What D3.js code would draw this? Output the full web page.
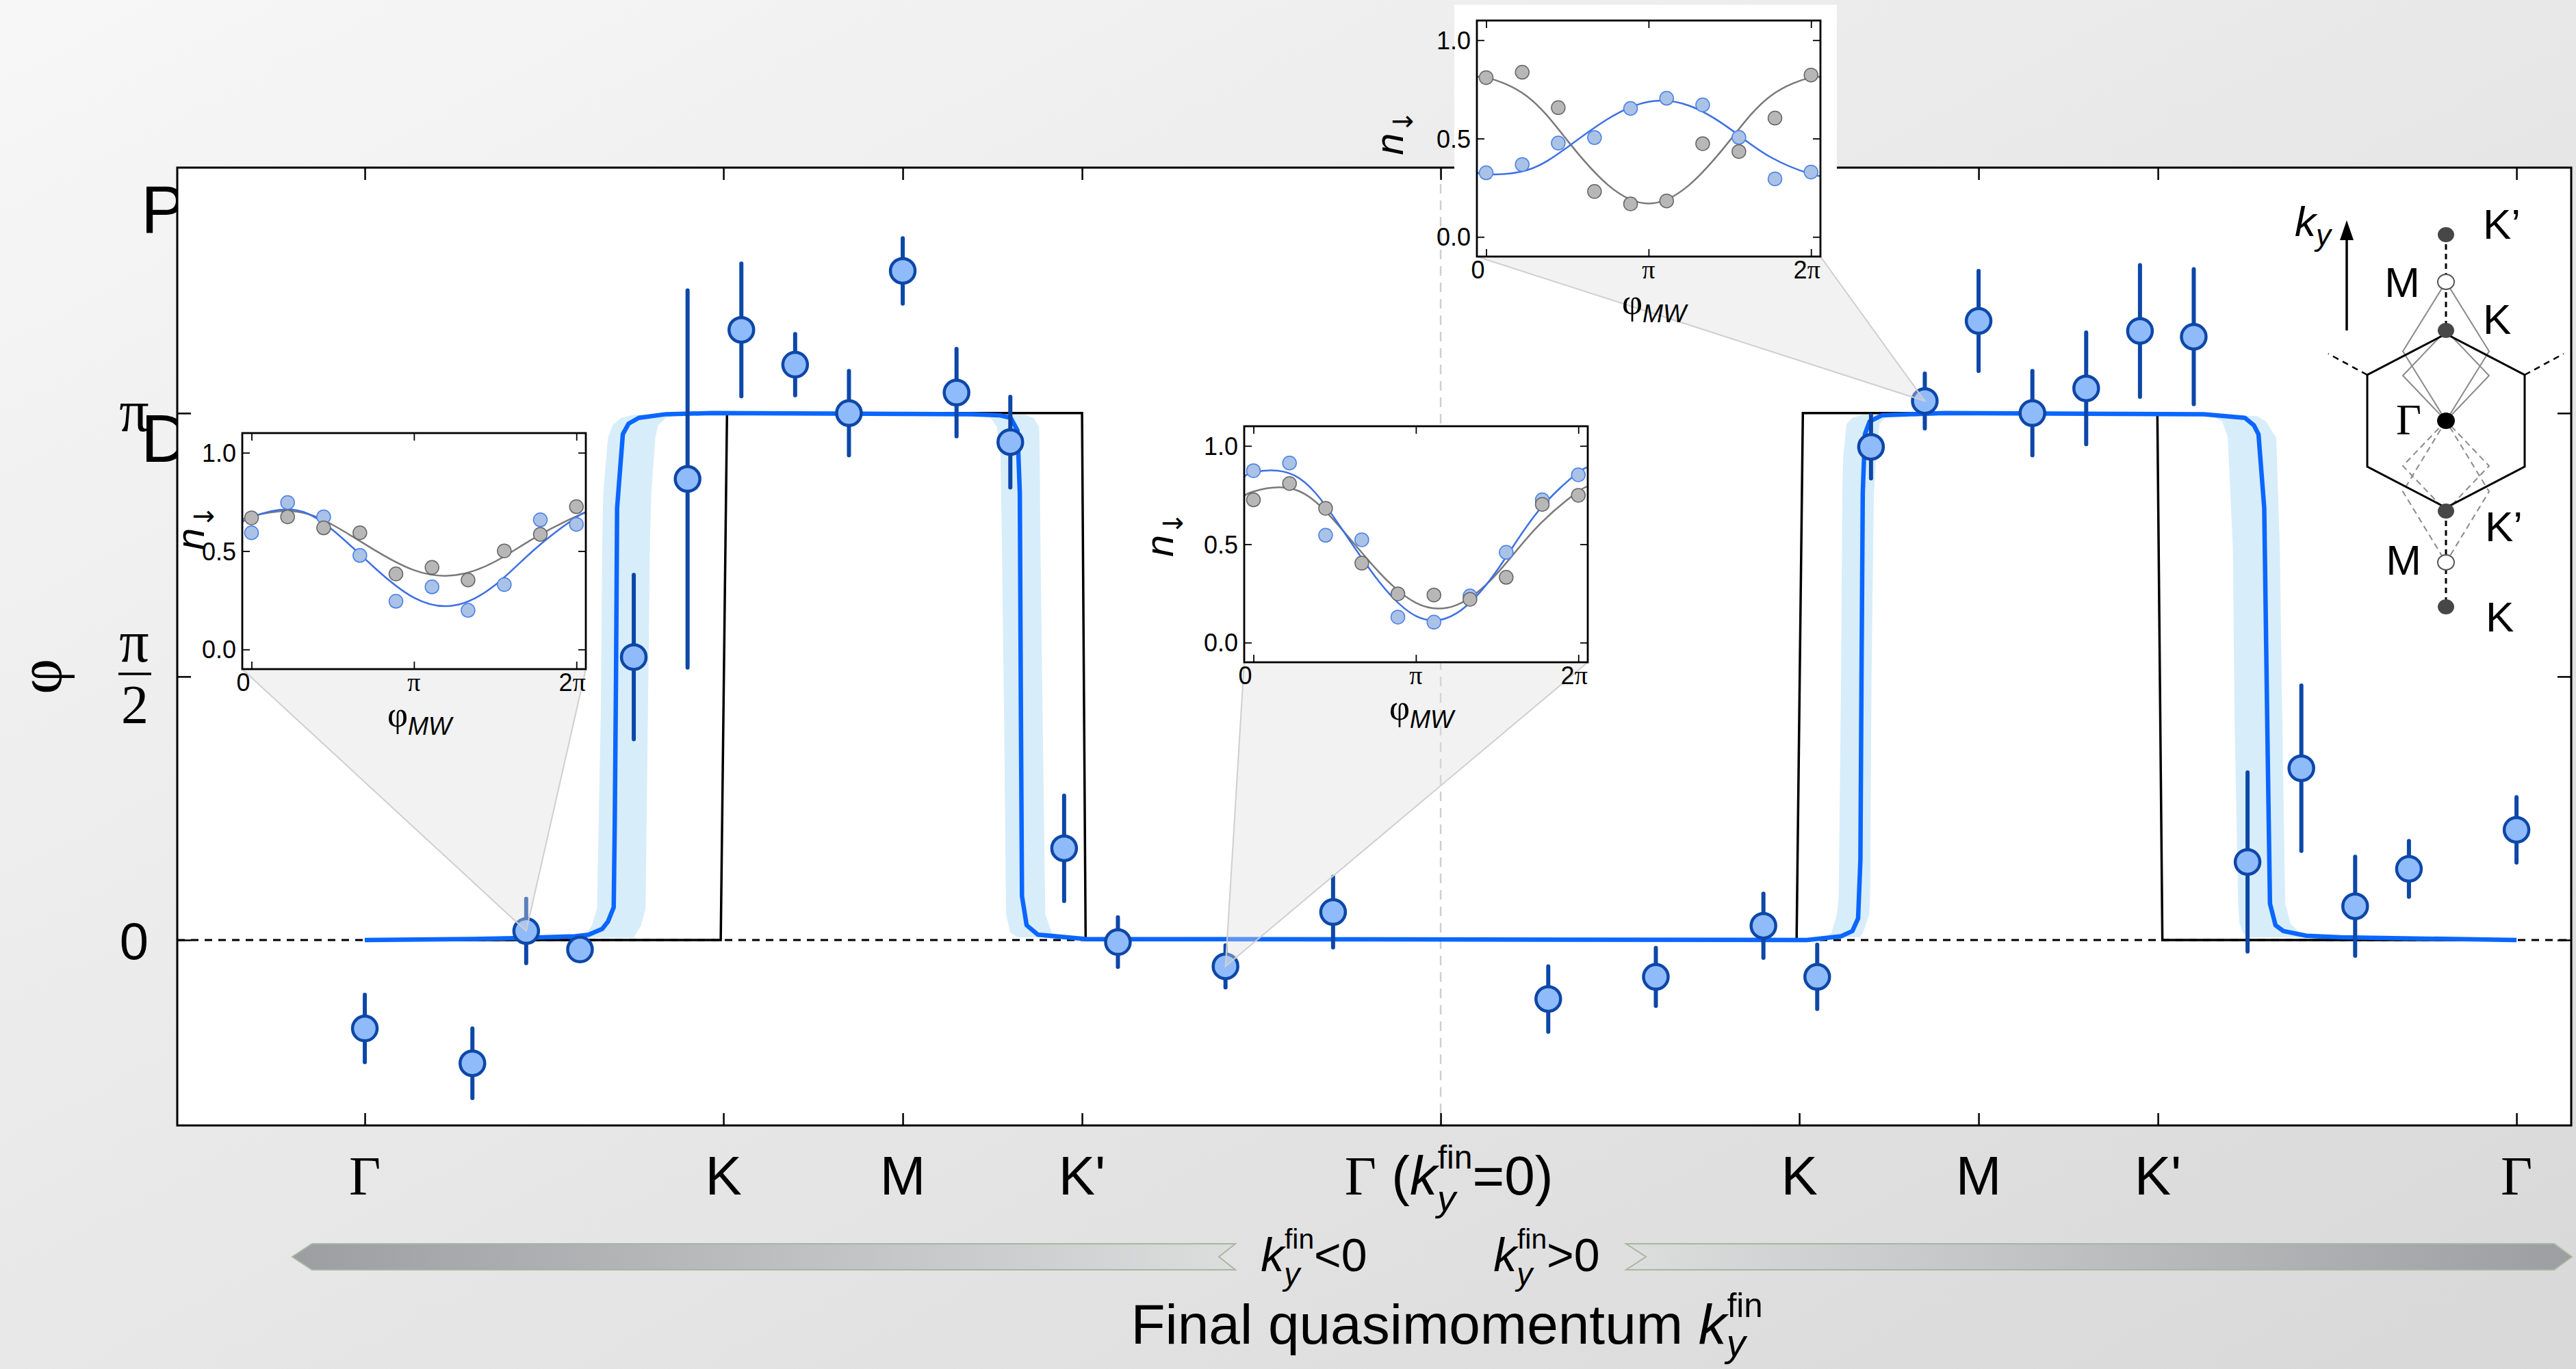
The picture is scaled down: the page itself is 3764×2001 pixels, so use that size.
<!DOCTYPE html>
<html>
<head>
<meta charset="utf-8">
<script src="https://cdn.jsdelivr.net/npm/d3@7/dist/d3.min.js"></script>
<style>
  html, body { margin: 0; padding: 0; overflow: hidden; }
  svg { display: block; }
  text { font-family: "Liberation Sans", Arial, sans-serif; fill: #000; }
  .serif { font-family: "Liberation Serif", "DejaVu Serif", serif; }
</style>
</head>
<body>
<svg id="fig"></svg>
<script>
// k positions in units of the Gamma-M distance: Gamma=0, K=2, M=3, K'=4, Gamma(k=0)=6 ...
let tickPos = [0, 2, 3, 4, 6, 8, 9, 10, 12];
let tickNames = ['Γ', 'K', 'M', "K'", 'Γ0', 'K', 'M', "K'", 'Γ'];

// measured phase (in units of pi) and error bars
let kMeas = [0, 0.6, 0.9, 1.2, 1.5, 1.8, 2.1, 2.4, 2.7, 3.0, 3.3, 3.6, 3.9, 4.2, 4.8, 5.4,
             6.6, 7.2, 7.8, 8.1, 8.4, 8.7, 9.0, 9.3, 9.6, 9.9, 10.2, 10.5, 10.8, 11.1, 11.4, 12.0];
let phiMeas = [-0.168, -0.234, 0.017, -0.018, 0.537, 0.875, 1.158, 1.092, 1.0, 1.270, 1.039, 0.945, 0.174, -0.004, -0.05, 0.053,
               -0.112, -0.07, 0.027, -0.07, 0.936, 1.023, 1.175, 1.0, 1.047, 1.156, 1.145, 0.148, 0.326, 0.064, 0.135, 0.209];
let phiErr = [0.064, 0.066, 0.061, 0.015, 0.156, 0.358, 0.126, 0.058, 0.08, 0.062, 0.083, 0.086, 0.10, 0.047, 0.04, 0.067,
              0.062, 0.055, 0.061, 0.061, 0.06, 0.052, 0.095, 0.08, 0.106, 0.125, 0.128, 0.17, 0.157, 0.094, 0.053, 0.062];

// ideal step (black)
let stepK = [0, 1.985, 2.02, 4.0, 4.02, 7.985, 8.02, 9.997, 10.025, 12];
let stepPhi = [0, 0, 1, 1, 0, 0, 1, 1, 0, 0];

// finite-ramp theory (blue line)
let theoryK = [0, 0.6, 0.9, 1.172, 1.248, 1.324, 1.356, 1.388, 1.394, 1.401, 1.407, 1.439, 1.471, 1.528, 1.68, 1.935,
               3.385, 3.538, 3.602, 3.64, 3.653, 3.659, 3.665, 3.691, 3.754, 4.02,
               8.042, 8.233, 8.296, 8.328, 8.341, 8.347, 8.354, 8.366, 8.392, 8.462, 8.805,
               10.256, 10.485, 10.535, 10.561, 10.593, 10.612, 10.625, 10.656, 10.70, 10.828, 11.02, 12];
let theoryPhi = [0, 0.002, 0.004, 0.007, 0.01, 0.021, 0.035, 0.062, 0.222, 0.5, 0.82, 0.96, 0.98, 0.991, 0.998, 1.0,
                 0.998, 0.996, 0.991, 0.967, 0.848, 0.431, 0.083, 0.028, 0.01, 0.002,
                 0.0, 0.007, 0.017, 0.041, 0.153, 0.5, 0.848, 0.96, 0.984, 0.996, 1.0,
                 0.998, 0.991, 0.977, 0.96, 0.82, 0.362, 0.069, 0.028, 0.017, 0.008, 0.005, 0];

// shaded range of the theory: [phi, k left edge, k right edge]
let bandRiseL = [[0.004, 1.22, 1.50], [0.028, 1.267, 1.541], [0.06, 1.295, 1.566], [0.43, 1.316, 1.579], [0.75, 1.324, 1.59],
                 [0.85, 1.33, 1.598], [0.953, 1.356, 1.62], [0.977, 1.382, 1.635], [0.991, 1.43, 1.68], [0.997, 1.5, 1.75]];
let bandDropL = [[0.005, 3.64, 3.89], [0.014, 3.60, 3.831], [0.049, 3.576, 3.795], [0.431, 3.565, 3.78], [0.779, 3.552, 3.767],
                 [0.918, 3.545, 3.764], [0.974, 3.525, 3.761], [0.991, 3.49, 3.729], [0.997, 3.44, 3.68]];
let bandRiseR = [[0.005, 8.14, 8.34], [0.014, 8.18, 8.355], [0.049, 8.21, 8.39], [0.083, 8.22, 8.395], [0.5, 8.233, 8.403],
                 [0.848, 8.24, 8.416], [0.918, 8.245, 8.43], [0.98, 8.264, 8.448], [0.991, 8.296, 8.48], [0.997, 8.35, 8.53]];
let bandDropR = [[0.005, 10.50, 10.85], [0.014, 10.475, 10.79], [0.031, 10.455, 10.74], [0.069, 10.447, 10.71], [0.431, 10.427, 10.693],
                 [0.744, 10.418, 10.68], [0.953, 10.39, 10.66], [0.984, 10.36, 10.603], [0.995, 10.30, 10.55]];

// insets: spin-down population vs microwave phase (units of pi)
let mwPhase = [0, 0.222, 0.444, 0.667, 0.889, 1.111, 1.333, 1.556, 1.778, 2.0];
let in1Gray = [0.669, 0.674, 0.618, 0.593, 0.384, 0.417, 0.353, 0.501, 0.585, 0.726];
let in1Blue = [0.593, 0.747, 0.674, 0.478, 0.245, 0.318, 0.199, 0.330, 0.659, 0.636];
let in2Gray = [0.726, 0.809, 0.683, 0.404, 0.248, 0.242, 0.220, 0.332, 0.703, 0.749];
let in2Blue = [0.874, 0.913, 0.546, 0.523, 0.130, 0.104, 0.237, 0.459, 0.726, 0.853];
let in3Gray = [0.810, 0.837, 0.657, 0.231, 0.168, 0.183, 0.474, 0.434, 0.604, 0.823];
let in3Blue = [0.326, 0.368, 0.477, 0.505, 0.653, 0.705, 0.671, 0.506, 0.295, 0.330];

// fitted curves of the insets, sampled
let fitPhase = [-0.06, 0, 0.25, 0.5, 0.75, 1, 1.25, 1.5, 1.75, 2, 2.06];
let fit1Gray = [0.657, 0.677, 0.703, 0.633, 0.509, 0.403, 0.377, 0.447, 0.571, 0.677, 0.692];
let fit1Blue = [0.642, 0.672, 0.711, 0.607, 0.421, 0.263, 0.224, 0.328, 0.514, 0.672, 0.695];
let fit2Gray = [0.738, 0.768, 0.779, 0.618, 0.379, 0.202, 0.191, 0.352, 0.591, 0.768, 0.788];
let fit2Blue = [0.834, 0.865, 0.851, 0.631, 0.335, 0.135, 0.149, 0.368, 0.665, 0.865, 0.883];
let fit3Gray = [0.804, 0.810, 0.716, 0.490, 0.264, 0.170, 0.264, 0.490, 0.716, 0.810, 0.804];
let fit3Blue = [0.331, 0.319, 0.339, 0.456, 0.600, 0.687, 0.667, 0.550, 0.406, 0.319, 0.313];

// ---------------- drawing ----------------
const W = 3764, H = 2001;
const box = {l: 259, r: 3757, t: 245, b: 1645};
const blueDark = '#0d47a8', blueLine = '#0a66ff', bandCol = '#d8edfa';

const svg = d3.select('#fig').attr('width', W).attr('height', H);
const defs = svg.append('defs');

let bg = defs.append('linearGradient').attr('id', 'bg').attr('x1', 0).attr('y1', 0).attr('x2', 1).attr('y2', 1);
bg.append('stop').attr('offset', '0%').attr('stop-color', '#f7f7f7');
bg.append('stop').attr('offset', '100%').attr('stop-color', '#d8d8d8');
svg.append('rect').attr('width', W).attr('height', H).attr('fill', 'url(#bg)');

// leftover panel letters, partly hidden by the plot
svg.append('text').attr('x', 206).attr('y', 340).attr('font-size', 98).text('P');
svg.append('text').attr('x', 206).attr('y', 675).attr('font-size', 98).text('D');

const x = d3.scaleLinear().domain([-1.046, 12.305]).range([box.l, box.r]);
const y = d3.scaleLinear().domain([-0.352, 1.466]).range([box.b, box.t]);

svg.append('rect').attr('x', box.l).attr('y', box.t).attr('width', box.r - box.l).attr('height', box.b - box.t).attr('fill', '#fff');
defs.append('clipPath').attr('id', 'plotclip').append('rect')
  .attr('x', box.l).attr('y', box.t).attr('width', box.r - box.l).attr('height', box.b - box.t);
const plot = svg.append('g').attr('clip-path', 'url(#plotclip)');

// k = 0 guide and phi = 0 guide
plot.append('line').attr('x1', x(6)).attr('x2', x(6)).attr('y1', box.t).attr('y2', box.b)
  .attr('stroke', '#cfcfcf').attr('stroke-width', 2.5).attr('stroke-dasharray', '14,10');
plot.append('line').attr('x1', box.l).attr('x2', box.r).attr('y1', y(0)).attr('y2', y(0))
  .attr('stroke', '#000').attr('stroke-width', 3).attr('stroke-dasharray', '11,9');

const band = d3.area().y(d => y(d[0])).x0(d => x(d[1])).x1(d => x(d[2]));
plot.selectAll('path.band').data([bandRiseL, bandDropL, bandRiseR, bandDropR]).join('path')
  .attr('class', 'band').attr('d', band).attr('fill', bandCol);

const line = d3.line().x(d => x(d[0])).y(d => y(d[1]));
plot.append('path').datum(stepK.map((k, i) => [k, stepPhi[i]])).attr('d', line)
  .attr('fill', 'none').attr('stroke', '#000').attr('stroke-width', 3.5);
plot.append('path').datum(theoryK.map((k, i) => [k, theoryPhi[i]])).attr('d', line)
  .attr('fill', 'none').attr('stroke', blueLine).attr('stroke-width', 6.5).attr('stroke-linejoin', 'round');

const pts = kMeas.map((k, i) => ({k: k, v: phiMeas[i], e: phiErr[i]}));
plot.selectAll('line.err').data(pts).join('line').attr('class', 'err')
  .attr('x1', d => x(d.k)).attr('x2', d => x(d.k))
  .attr('y1', d => y(d.v - d.e)).attr('y2', d => y(d.v + d.e))
  .attr('stroke', blueDark).attr('stroke-width', 6).attr('stroke-linecap', 'round');
plot.selectAll('circle.pt').data(pts).join('circle').attr('class', 'pt')
  .attr('cx', d => x(d.k)).attr('cy', d => y(d.v)).attr('r', 18)
  .attr('fill', '#8fbbfb').attr('stroke', blueDark).attr('stroke-width', 4.5);

// frame and ticks
svg.append('rect').attr('x', box.l).attr('y', box.t).attr('width', box.r - box.l).attr('height', box.b - box.t)
  .attr('fill', 'none').attr('stroke', '#000').attr('stroke-width', 3);
function ticks(axis, tx, ty) {
  let g = svg.append('g').attr('transform', `translate(${tx},${ty})`).call(axis);
  g.select('.domain').remove();
  g.selectAll('line').attr('stroke', '#000').attr('stroke-width', 2.5);
  g.selectAll('text').remove();
}
ticks(d3.axisBottom(x).tickValues(tickPos).tickSize(-18), 0, box.b);
ticks(d3.axisTop(x).tickValues(tickPos).tickSize(-18), 0, box.t);
ticks(d3.axisLeft(y).tickValues([0, 0.5, 1]).tickSize(-20), box.l, 0);
ticks(d3.axisRight(y).tickValues([0, 0.5, 1]).tickSize(-20), box.r, 0);

// helper for k_y^fin (y below, fin above, stacked)
function addKy(t, fs, after, drop) {
  drop = drop || 0.3;
  t.append('tspan').attr('font-style', 'italic').text('k');
  t.append('tspan').attr('font-style', 'italic').attr('font-size', fs * 0.68).attr('dy', fs * drop).text('y');
  t.append('tspan').attr('font-size', fs * 0.6).attr('dx', -fs * 0.33).attr('dy', -fs * (drop + 0.48)).text('fin');
  if (after) t.append('tspan').attr('dy', fs * 0.48).text(after);
}

// x tick labels
const xfs = 80, xlBase = 1746;
tickPos.forEach((k, i) => {
  let name = tickNames[i];
  let t = svg.append('text').attr('x', x(k)).attr('y', xlBase).attr('font-size', xfs).attr('text-anchor', 'middle');
  if (name === 'Γ') t.attr('class', 'serif').text('Γ');
  else if (name === 'Γ0') {
    t.attr('x', x(k) + 12);
    t.append('tspan').attr('class', 'serif').text('Γ');
    t.append('tspan').text(' (');
    addKy(t, xfs, '=0)');
  } else t.text(name);
});

// y tick labels
const yl = svg.append('g');
yl.append('text').attr('class', 'serif').attr('x', 196).attr('y', y(1) + 26).attr('font-size', 86).attr('text-anchor', 'middle').text('π');
yl.append('text').attr('class', 'serif').attr('x', 196).attr('y', y(0.5) - 22).attr('font-size', 86).attr('text-anchor', 'middle').text('π');
yl.append('line').attr('x1', 173).attr('x2', 221).attr('y1', y(0.5) - 4).attr('y2', y(0.5) - 4).attr('stroke', '#000').attr('stroke-width', 3.5);
yl.append('text').attr('class', 'serif').attr('x', 197).attr('y', y(0.5) + 68).attr('font-size', 80).attr('text-anchor', 'middle').text('2');
yl.append('text').attr('x', 196).attr('y', y(0) + 28).attr('font-size', 76).attr('text-anchor', 'middle').text('0');
svg.append('text').attr('class', 'serif').attr('font-size', 90).attr('text-anchor', 'middle')
  .attr('transform', `translate(90,${y(0.5)}) rotate(-90)`).text('φ');

// direction arrows under the axis
let gl = defs.append('linearGradient').attr('id', 'arrL');
gl.append('stop').attr('offset', '0%').attr('stop-color', '#9c9ea1');
gl.append('stop').attr('offset', '100%').attr('stop-color', '#dcdddd');
let gr = defs.append('linearGradient').attr('id', 'arrR');
gr.append('stop').attr('offset', '0%').attr('stop-color', '#dcdddd');
gr.append('stop').attr('offset', '100%').attr('stop-color', '#9c9ea1');
const aT = 1818, aM = 1837, aB = 1856;
svg.append('polygon').attr('points', [[427, aM], [456, aT], [1805, aT], [1781, aM], [1805, aB], [456, aB]].join(' '))
  .attr('fill', 'url(#arrL)').attr('stroke', '#a9b6a2').attr('stroke-width', 2);
svg.append('polygon').attr('points', [[2376, aT], [3732, aT], [3758, aM], [3732, aB], [2376, aB], [2405, aM]].join(' '))
  .attr('fill', 'url(#arrR)').attr('stroke', '#a9b6a2').attr('stroke-width', 2);
let tL = svg.append('text').attr('x', 1920).attr('y', 1858).attr('font-size', 68).attr('text-anchor', 'middle');
addKy(tL, 68, '<0');
let tR = svg.append('text').attr('x', 2260).attr('y', 1858).attr('font-size', 68).attr('text-anchor', 'middle');
addKy(tR, 68, '>0');
let title = svg.append('text').attr('x', 2114).attr('y', 1964).attr('font-size', 82).attr('text-anchor', 'middle');
title.append('tspan').text('Final quasimomentum ');
addKy(title, 82, null, 0.22);

// ---------------- insets ----------------
const insetW = 502, insetH = 345;
let insets = [
  {id: 1, x: 354, y: 633, gray: in1Gray, blue: in1Blue, fitG: fit1Gray, fitB: fit1Blue, target: 2, labDx: -56, labV: 0.62},
  {id: 2, x: 1818, y: 623, gray: in2Gray, blue: in2Blue, fitG: fit2Gray, fitB: fit2Blue, target: 14, labDx: -104, labV: 0.55},
  {id: 3, x: 2158, y: 30, gray: in3Gray, blue: in3Blue, fitG: fit3Gray, fitB: fit3Blue, target: 21, labDx: -108, labV: 0.53, panel: true}
];

insets.forEach(cfg => {
  const g = svg.append('g');
  const ix = d3.scaleLinear().domain([-0.057, 2.058]).range([cfg.x, cfg.x + insetW]);
  const iy = d3.scaleLinear().domain([-0.1, 1.1]).range([cfg.y + insetH, cfg.y]);
  if (cfg.panel) {
    g.append('rect').attr('x', cfg.x - 33).attr('y', 7).attr('width', 559).attr('height', 270).attr('fill', '#fff');
  }
  // callout wedge to the data point
  let p = pts[cfg.target];
  g.append('path')
    .attr('d', `M${cfg.x},${cfg.y + insetH}L${x(p.k)},${y(p.v)}L${cfg.x + insetW},${cfg.y + insetH}Z`)
    .attr('fill', '#dcdcdc').attr('fill-opacity', 0.38).attr('stroke', '#cfcfcf').attr('stroke-width', 2);

  g.append('rect').attr('x', cfg.x).attr('y', cfg.y).attr('width', insetW).attr('height', insetH).attr('fill', '#fff');
  const cid = 'ic' + cfg.id;
  defs.append('clipPath').attr('id', cid).append('rect')
    .attr('x', cfg.x).attr('y', cfg.y).attr('width', insetW).attr('height', insetH);
  const inner = g.append('g').attr('clip-path', `url(#${cid})`);
  const fl = d3.line().x(d => ix(d[0])).y(d => iy(d[1])).curve(d3.curveNatural);
  inner.append('path').datum(fitPhase.map((f, i) => [f, cfg.fitG[i]])).attr('d', fl)
    .attr('fill', 'none').attr('stroke', '#7a7a7a').attr('stroke-width', 2.5);
  inner.append('path').datum(fitPhase.map((f, i) => [f, cfg.fitB[i]])).attr('d', fl)
    .attr('fill', 'none').attr('stroke', '#3d6fe3').attr('stroke-width', 2.5);
  inner.selectAll('circle.b').data(mwPhase.map((f, i) => [f, cfg.blue[i]])).join('circle').attr('class', 'b')
    .attr('cx', d => ix(d[0])).attr('cy', d => iy(d[1])).attr('r', 10)
    .attr('fill', '#a9c2e6').attr('stroke', '#4a7fe8').attr('stroke-width', 1.5);
  inner.selectAll('circle.g').data(mwPhase.map((f, i) => [f, cfg.gray[i]])).join('circle').attr('class', 'g')
    .attr('cx', d => ix(d[0])).attr('cy', d => iy(d[1])).attr('r', 10)
    .attr('fill', '#b7b7b7').attr('stroke', '#666').attr('stroke-width', 1.5);

  function iticks(axis, tx, ty) {
    let a = g.append('g').attr('transform', `translate(${tx},${ty})`).call(axis);
    a.select('.domain').remove();
    a.selectAll('line').attr('stroke', '#000').attr('stroke-width', 1.8);
    a.selectAll('text').remove();
  }
  iticks(d3.axisBottom(ix).tickValues([0, 1, 2]).tickSize(-11), 0, cfg.y + insetH);
  iticks(d3.axisTop(ix).tickValues([0, 1, 2]).tickSize(-11), 0, cfg.y);
  iticks(d3.axisLeft(iy).tickValues([0, 0.5, 1]).tickSize(-11), cfg.x, 0);
  iticks(d3.axisRight(iy).tickValues([0, 0.5, 1]).tickSize(-11), cfg.x + insetW, 0);
  g.append('rect').attr('x', cfg.x).attr('y', cfg.y).attr('width', insetW).attr('height', insetH)
    .attr('fill', 'none').attr('stroke', '#000').attr('stroke-width', 2.8);

  [0, 0.5, 1].forEach(v => {
    g.append('text').attr('x', cfg.x - 9).attr('y', iy(v) + 13).attr('font-size', 36).attr('text-anchor', 'end').text(v.toFixed(1));
  });
  [[0, '0'], [1, 'π'], [2, '2π']].forEach(([f, s]) => {
    let t = g.append('text').attr('x', ix(f)).attr('y', cfg.y + insetH + 32).attr('font-size', 36).attr('text-anchor', 'middle');
    if (s === '0') t.attr('x', ix(f) - 12).text('0');
    else {
      if (s === '2π') t.attr('x', ix(f) - 6).append('tspan').text('2');
      t.append('tspan').attr('class', 'serif').attr('font-size', 38).text('π');
    }
  });
  let xl = g.append('text').attr('x', ix(1) + 8).attr('y', cfg.y + insetH + 84).attr('text-anchor', 'middle');
  xl.append('tspan').attr('class', 'serif').attr('font-size', 52).text('φ');
  xl.append('tspan').attr('font-style', 'italic').attr('font-size', 36).attr('dy', 12).text('MW');
  let ylab = g.append('text').attr('text-anchor', 'middle')
    .attr('transform', `translate(${cfg.x + cfg.labDx},${iy(cfg.labV)}) rotate(-90)`);
  ylab.append('tspan').attr('font-style', 'italic').attr('font-size', 58).text('n');
  ylab.append('tspan').attr('font-family', '"DejaVu Sans", sans-serif').attr('font-size', 40).attr('dy', 14).text('↓');
});

// ---------------- Brillouin zone sketch ----------------
const bz = svg.append('g').attr('transform', 'translate(3574,615)');
const hex = [[0, -127], [115, -67], [115, 67], [0, 127], [-115, 67], [-115, -67]];
bz.append('line').attr('x1', -115).attr('y1', -67).attr('x2', -172).attr('y2', -98)
  .attr('stroke', '#000').attr('stroke-width', 2.5).attr('stroke-dasharray', '9,7');
bz.append('line').attr('x1', 115).attr('y1', -67).attr('x2', 172).attr('y2', -98)
  .attr('stroke', '#000').attr('stroke-width', 2.5).attr('stroke-dasharray', '9,7');
bz.append('line').attr('x1', 0).attr('x2', 0).attr('y1', -272).attr('y2', -132)
  .attr('stroke', '#000').attr('stroke-width', 3).attr('stroke-dasharray', '8,6');
bz.append('line').attr('x1', 0).attr('x2', 0).attr('y1', 132).attr('y2', 272)
  .attr('stroke', '#000').attr('stroke-width', 3).attr('stroke-dasharray', '8,6');
const rh = (top) => `M0,0L-63,${top / 2}L0,${top}L63,${top / 2}Z`;
bz.append('path').attr('d', rh(-203)).attr('fill', 'none').attr('stroke', '#8a8a8a').attr('stroke-width', 2);
bz.append('path').attr('d', rh(-132)).attr('fill', 'none').attr('stroke', '#8a8a8a').attr('stroke-width', 2);
bz.append('path').attr('d', rh(132)).attr('fill', 'none').attr('stroke', '#8a8a8a').attr('stroke-width', 2).attr('stroke-dasharray', '9,6');
bz.append('path').attr('d', rh(207)).attr('fill', 'none').attr('stroke', '#8a8a8a').attr('stroke-width', 2).attr('stroke-dasharray', '9,6');
bz.append('polygon').attr('points', hex.join(' ')).attr('fill', 'none').attr('stroke', '#000').attr('stroke-width', 3);
[-272, -132, 132, 272].forEach(dy => {
  bz.append('ellipse').attr('cx', 0).attr('cy', dy).attr('rx', 12).attr('ry', 11).attr('fill', '#474747');
});
[-203, 207].forEach(dy => {
  bz.append('ellipse').attr('cx', 0).attr('cy', dy).attr('rx', 12).attr('ry', 11).attr('fill', '#fff').attr('stroke', '#555').attr('stroke-width', 2);
});
bz.append('ellipse').attr('cx', 0).attr('cy', 0).attr('rx', 13).attr('ry', 12).attr('fill', '#000');
const bzLab = [[54, -266, 'K’', 'start'], [-38, -181, 'M', 'end'], [54, -127, 'K', 'start'],
               [57, 176, 'K’', 'start'], [-36, 225, 'M', 'end'], [58, 308, 'K', 'start']];
bzLab.forEach(([dx, dy, s, a]) => {
  bz.append('text').attr('x', dx).attr('y', dy).attr('font-size', 62).attr('text-anchor', a).text(s);
});
bz.append('text').attr('class', 'serif').attr('x', -36).attr('y', 20).attr('font-size', 64).attr('text-anchor', 'end').text('Γ');
let kyl = bz.append('text').attr('x', -221).attr('y', -270).attr('font-size', 62);
kyl.append('tspan').attr('font-style', 'italic').text('k');
kyl.append('tspan').attr('font-style', 'italic').attr('font-size', 44).attr('dy', 14).text('y');
bz.append('line').attr('x1', -145).attr('x2', -145).attr('y1', -132).attr('y2', -272).attr('stroke', '#000').attr('stroke-width', 3.5);
bz.append('path').attr('d', 'M-155,-264L-145,-293L-135,-264Z').attr('fill', '#000');
</script>
</body>
</html>
